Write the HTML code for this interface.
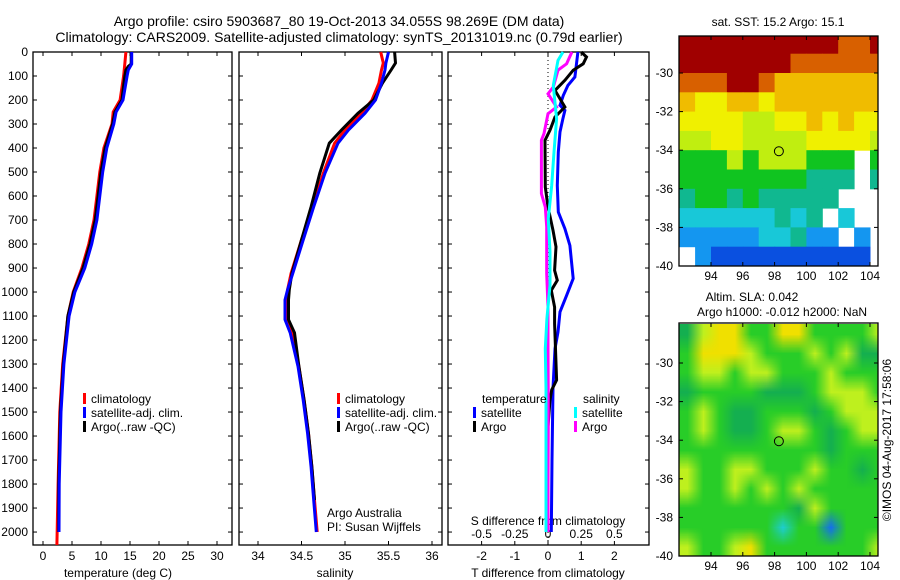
<!DOCTYPE html>
<html><head><meta charset="utf-8"><style>
html,body{margin:0;padding:0;background:#fff;}
#root{position:relative;width:900px;height:580px;overflow:hidden;font-family:"Liberation Sans",sans-serif;}
svg{position:absolute;left:0;top:0;}
text{font-family:"Liberation Sans",sans-serif;fill:#000;}
#slawrap{position:absolute;left:679px;top:323px;width:199px;height:233px;overflow:hidden;}
#slacanvas{position:absolute;left:0;top:1px;width:207px;height:232px;}
</style></head><body>
<div id="root">
<div id="slawrap"><canvas id="slacanvas" width="13" height="12"></canvas></div>
<svg id="fig" width="900" height="580" xmlns="http://www.w3.org/2000/svg">
<text x="339" y="26" font-size="14" text-anchor="middle">Argo profile: csiro 5903687_80 19-Oct-2013 34.055S 98.269E (DM data)</text>
<text x="339" y="42" font-size="14" text-anchor="middle">Climatology: CARS2009. Satellite-adjusted climatology: synTS_20131019.nc (0.79d earlier)</text>
<text x="118" y="577" font-size="12" text-anchor="middle">temperature (deg C)</text>
<text x="335" y="577" font-size="12" text-anchor="middle">salinity</text>
<text x="548" y="577" font-size="12" text-anchor="middle">T difference from climatology</text>
<text x="548" y="525" font-size="12" text-anchor="middle">S difference from climatology</text>
<text x="327" y="517" font-size="12">Argo Australia</text>
<text x="327" y="531" font-size="12">PI: Susan Wijffels</text>
<text x="778" y="26" font-size="12" text-anchor="middle">sat. SST: 15.2 Argo: 15.1</text>
<text x="752" y="301" font-size="12" text-anchor="middle">Altim. SLA: 0.042</text>
<text x="782" y="316" font-size="12" text-anchor="middle">Argo h1000: -0.012 h2000: NaN</text>
<text x="0" y="0" font-size="12" text-anchor="middle" transform="translate(891,440) rotate(-90)">©IMOS 04-Aug-2017 17:58:06</text>
</svg>
</div>
<script>
// ---------- data ----------
const depthTicks = [0,100,200,300,400,500,600,700,800,900,1000,1100,1200,1300,1400,1500,1600,1700,1800,1900,2000];
const tempTicks = [0,5,10,15,20,25,30];
const salTicks = [34,34.5,35,35.5,36];
const salTickLabels = ["34","34.5","35","35.5","36"];
const tdiffTicks = [-2,-1,0,1,2];
const sdiffTicks = [-0.5,-0.25,0,0.25,0.5];
const sdiffTickLabels = ["-0.5","-0.25","0","0.25","0.5"];

const tClimDepth = [0,50,75,100,200,250,300,400,500,600,700,800,900,1000,1100,1300,1500,1800,2054];
const tClim = [14.3,14.1,14.0,13.9,13.3,12.1,11.9,10.5,9.8,9.3,8.8,7.9,6.7,5.2,4.3,3.4,2.9,2.6,2.4];
const tSatDepth = [0,50,75,100,200,250,300,400,500,600,700,800,900,1000,1100,1300,1500,1800,2000];
const tSat = [15.3,15.3,14.7,14.5,13.8,12.6,12.2,11.0,10.3,9.8,9.3,8.4,7.2,5.5,4.5,3.6,3.1,2.8,2.75];
const tArgoDepth = [0,50,60,75,100,200,250,300,400,500,600,700,800,900,1000,1100,1300,1500,1800,2000];
const tArgo = [15.2,15.2,14.7,14.3,14.1,13.6,12.4,12.0,10.7,10.0,9.5,9.0,8.1,6.9,5.3,4.3,3.5,3.0,2.7,2.7];

const sDepth = [0,46,75,130,200,255,325,380,505,645,783,922,990,1033,1115,1170,1310,1450,1590,1730,1867,2000];
const sClim = [35.41,35.44,35.42,35.39,35.31,35.19,35.0,34.88,34.75,34.63,34.50,34.38,34.34,34.33,34.34,34.39,34.47,34.53,34.58,34.62,34.65,34.68];
const sSat = [35.50,35.47,35.46,35.42,35.35,35.23,35.04,34.92,34.77,34.64,34.52,34.40,34.34,34.31,34.31,34.37,34.46,34.52,34.57,34.61,34.64,34.67];
const sArgo = [35.57,35.58,35.53,35.43,35.33,35.15,34.96,34.82,34.71,34.61,34.50,34.39,34.36,34.35,34.35,34.42,34.47,34.53,34.58,34.62,34.65];
const sArgoDepth = [0,46,75,130,200,255,325,380,505,645,783,922,990,1033,1115,1170,1310,1450,1590,1730,1867];

const dtSatDepth = [0,104,139,181,222,243,278,333,417,556,667,736,806,944,1014,1083,1167,1236,1400,1700,2000];
const dtSat = [0.9,0.81,0.6,0.46,0.36,0.51,0.45,0.36,0.31,0.28,0.31,0.51,0.66,0.76,0.56,0.36,0.3,0.21,0.15,0.12,0.1];
const dtArgoDepth = [0,21,49,76,118,160,229,271,326,368,563,646,743,812,910,951,993,1063,1132,1367,1408,1450,1560];
const dtArgo = [1.0,1.16,1.06,0.76,0.51,0.21,0.51,0.21,0.06,-0.09,-0.08,0.0,0.15,0.24,0.2,0.28,0.1,0.2,0.2,0.26,0.11,0.06,0.0];
const dsArgoDepth = [0,49,76,146,174,229,257,340,368,590,646,729,924,1063,1236,1500,1800,2000];
const dsArgo = [0.18,0.14,0.075,0.04,0.0,0.065,0.0,-0.03,-0.05,-0.05,-0.02,-0.01,-0.01,0.0,0.0,0.002,0.0,0.0];
const dsSatDepth = [0,35,139,278,417,556,694,833,972,1111,1236,1400,1700,2000];
const dsSat = [0.113,0.075,0.04,0.065,0.045,0.028,0.002,0.015,0.015,-0.008,-0.02,-0.015,-0.015,-0.015];

// SST map: 1-degree cells, rows lat -28..-40 (top to bottom), cols lon 92..104
const sstLats = [-28,-29,-30,-31,-32,-33,-34,-35,-36,-37,-38,-39];
const sstLons = [92,93,94,95,96,97,98,99,100,101,102,103,104];
const sstRows = [
 "RRRRRRRRRRrrR",
 "RRRRRRRrrrrrr",
 "rrrRRrooooooo",
 "oyyooyooooooo",
 "yyyyllyyoyoyy",
 "llyyllllyyyyl",
 "ggglglllggg.g",
 "ggggggggttt.t",
 "tggtgttttt...",
 "cccccctct.c..",
 "bbbbbcctbb.b.",
 ".bBBBBBBBBBB."];
const sstCode = {R:19,r:18,o:17,y:16,l:15,g:14,t:13,c:12,b:11,B:10};
const slaRows = [
 "dyYYggYYggggy",
 "gYYYygggygydd",
 "gyygyygggyggg",
 "dggggdddgyyyg",
 "gygddgggdgyyy",
 "gygddgyygdgyy",
 "gggggggggdggg",
 "yggyygggyggdg",
 "yggygygyggggg",
 "gggggggdygggg",
 "ggggggcggbggg",
 "yggyYgggggggy"];
const slaCode = {Y:0.15,y:0.1,g:0,d:-0.05,c:-0.15,b:-0.25};
const mapLonTicks = [94,96,98,100,102,104];
const mapLatTicks = [-30,-32,-34,-36,-38,-40];
const argoLon = 98.269, argoLat = -34.055;

// ---------- helpers ----------
const NS = "http://www.w3.org/2000/svg";
const svg = document.getElementById('fig');
function mk(tag, attrs, parent){ const e=document.createElementNS(NS,tag); for(const k in attrs) e.setAttribute(k,attrs[k]); (parent||svg).appendChild(e); return e; }
const TOP=52, BOT=545, DMAX=2054;
const yD = d => TOP + d*(BOT-TOP)/DMAX;
const xT = t => 43 + 5.8*t;
const xS = s => 258 + 87*(s-34);
const xDT = t => 548 + 33.2*t;
const xDS = s => 548 + 132.8*s;

function frame(x0,x1,name){
  const r = mk('rect',{x:x0,y:TOP,width:x1-x0,height:BOT-TOP,fill:'none',stroke:'#000','stroke-width':1.3});
  
  
  depthTicks.forEach(d=>{
    const t1 = mk('line',{x1:x0,x2:x0+4,y1:yD(d),y2:yD(d),stroke:'#000'});
    
    
    const t2 = mk('line',{x1:x1-4,x2:x1,y1:yD(d),y2:yD(d),stroke:'#000'});
    
    
  });
}
function xticks(vals, fx, labels, ly, name){
  vals.forEach((v,i)=>{
    const a = mk('line',{x1:fx(v),x2:fx(v),y1:TOP,y2:TOP+4,stroke:'#000'});
    
    
    const b = mk('line',{x1:fx(v),x2:fx(v),y1:BOT-4,y2:BOT,stroke:'#000'});
    
    
    if(ly){
      const t = mk('text',{x:fx(v),y:ly,'font-size':12,'text-anchor':'middle'});
      t.textContent = labels ? labels[i] : String(v);
      
      
    }
  });
}
function line(xs, ds, fx, color, name, w){
  const pts = xs.map((v,i)=>fx(v).toFixed(1)+','+yD(ds[i]).toFixed(1)).join(' ');
  const p = mk('polyline',{points:pts,fill:'none',stroke:color,'stroke-width':w||3,'stroke-linejoin':'miter'});
  
  
}
function legend(x, y, color, label, name){
  const r = mk('rect',{x:x,y:y-6,width:3,height:11,fill:color});
  
  
  const t = mk('text',{x:x+8,y:y+4,'font-size':12});
  t.textContent = label;
  
  
}

// ---------- panel 1: temperature ----------
frame(33,232,'temperature-axes');
depthTicks.forEach(d=>{
  const t = mk('text',{x:28,y:yD(d)+4,'font-size':12,'text-anchor':'end'});
  t.textContent = d;
  
  
});
xticks(tempTicks, xT, null, 560, 'temperature-tick-label');
line(tClim, tClimDepth, xT, '#ff0000', 'temperature-climatology-line');
line(tArgo, tArgoDepth, xT, '#000000', 'temperature-argo-line');
line(tSat, tSatDepth, xT, '#0000ff', 'temperature-satellite-line');
legend(83,399,'#ff0000','climatology','temp-legend-climatology');
legend(83,413,'#0000ff','satellite-adj. clim.','temp-legend-satellite');
legend(83,427,'#000000','Argo(..raw -QC)','temp-legend-argo');

// ---------- panel 2: salinity ----------
frame(239,442,'salinity-axes');
xticks(salTicks, xS, salTickLabels, 560, 'salinity-tick-label');
line(sClim, sDepth, xS, '#ff0000', 'salinity-climatology-line');
line(sArgo, sArgoDepth, xS, '#000000', 'salinity-argo-line');
line(sSat, sDepth, xS, '#0000ff', 'salinity-satellite-line');
legend(337,399,'#ff0000','climatology','sal-legend-climatology');
legend(337,413,'#0000ff','satellite-adj. clim.','sal-legend-satellite');
legend(337,427,'#000000','Argo(..raw -QC)','sal-legend-argo');

// ---------- panel 3: differences ----------
frame(448,649,'difference-axes');
xticks(tdiffTicks, xDT, null, 560, 'tdiff-tick-label');
sdiffTickLabels.forEach((lab,i)=>{
  const t = mk('text',{x:xDS(sdiffTicks[i]),y:538,'font-size':12,'text-anchor':'middle'});
  t.textContent = lab;
  
  
});
const zl = mk('line',{x1:xDT(0),x2:xDT(0),y1:TOP,y2:BOT,stroke:'#000','stroke-dasharray':'1,3'});


line(dtSat, dtSatDepth, xDT, '#0000ff', 'tdiff-satellite-line');
line(dtArgo, dtArgoDepth, xDT, '#000000', 'tdiff-argo-line');
line(dsArgo, dsArgoDepth, xDS, '#ff00ff', 'sdiff-argo-line');
line(dsSat, dsSatDepth, xDS, '#00ffff', 'sdiff-satellite-line');
const lt1 = mk('text',{x:482,y:403,'font-size':12}); lt1.textContent='temperature';


const lt2 = mk('text',{x:583,y:403,'font-size':12}); lt2.textContent='salinity';


legend(473,413,'#0000ff','satellite','diff-legend-t-satellite');
legend(473,427,'#000000','Argo','diff-legend-t-argo');
legend(574,413,'#00ffff','satellite','diff-legend-s-satellite');
legend(574,427,'#ff00ff','Argo','diff-legend-s-argo');

// ---------- maps ----------
const MX0=679, MX1=878;
const xLon = lon => 711 + 15.9*(lon-94);
function mapAxes(top, bot, latTop, prefix){
  const yLat = lat => bot - 19.3*(lat+40);
  const r = mk('rect',{x:MX0,y:top,width:MX1-MX0,height:bot-top,fill:'none',stroke:'#000','stroke-width':1.3});
  
  
  mapLonTicks.forEach(l=>{
    const a = mk('line',{x1:xLon(l),x2:xLon(l),y1:bot-4,y2:bot,stroke:'#000'});
    
    
    const b = mk('line',{x1:xLon(l),x2:xLon(l),y1:top,y2:top+4,stroke:'#000'});
    
    
    const t = mk('text',{x:xLon(l),y:bot+14,'font-size':12,'text-anchor':'middle'});
    t.textContent = l;
    
    
  });
  mapLatTicks.forEach(l=>{
    const a = mk('line',{x1:MX0,x2:MX0+4,y1:yLat(l),y2:yLat(l),stroke:'#000'});
    
    
    const b = mk('line',{x1:MX1-4,x2:MX1,y1:yLat(l),y2:yLat(l),stroke:'#000'});
    
    
    const t = mk('text',{x:673,y:yLat(l)+4,'font-size':12,'text-anchor':'end'});
    t.textContent = l;
    
    
  });
  const c = mk('circle',{cx:xLon(argoLon),cy:yLat(argoLat),r:4.5,fill:'none',stroke:'#000','stroke-width':1});
  
  
}
function sstColor(t){
  const m = {10:'#0a50e0',11:'#1496f0',12:'#18c8d8',13:'#10b890',14:'#10c420',15:'#c0ee10',16:'#f0f000',17:'#f0bc00',18:'#d86000',19:'#a00000'};
  return m[Math.round(t)];
}
// SST cells
const sstTop=36, sstBot=266;
const cg = mk('g',{});


const clip = mk('clipPath',{id:'sstclip'});
mk('rect',{x:MX0,y:sstTop,width:MX1-MX0,height:sstBot-sstTop},clip);
cg.setAttribute('clip-path','url(#sstclip)');
sstRows.forEach((row,ri)=>{
  const lat = sstLats[ri];
  row.split('').forEach((ch,ci)=>{
    if(!(ch in sstCode)) return;
    const lon = sstLons[ci];
    const y0 = sstBot - 19.3*(lat+40);
    const cell = mk('rect',{x:xLon(lon).toFixed(1),y:y0.toFixed(1),width:16.4,height:19.8,fill:sstColor(sstCode[ch])},cg);
    
    
  });
});
mapAxes(sstTop, sstBot, -28.1, 'sst-map');

// SLA canvas (smoothed)
function slaColor(v){
  if(v>=0.15) return [240,224,0];
  if(v>=0.1) return [190,240,30];
  if(v>=0) return [40,205,40];
  if(v>=-0.05) return [20,175,80];
  if(v>=-0.15) return [30,205,210];
  return [20,110,240];
}
const cv = document.getElementById('slacanvas');
const ctx = cv.getContext('2d');
const img = ctx.createImageData(13,12);
slaRows.forEach((row,ri)=>{
  row.split('').forEach((ch,ci)=>{
    const c = slaColor(slaCode[ch]);
    const k = (ri*13+ci)*4;
    img.data[k]=c[0]; img.data[k+1]=c[1]; img.data[k+2]=c[2]; img.data[k+3]=255;
  });
});
ctx.putImageData(img,0,0);
mapAxes(323, 556, -27.9, 'sla-map');
</script>
</body></html>
